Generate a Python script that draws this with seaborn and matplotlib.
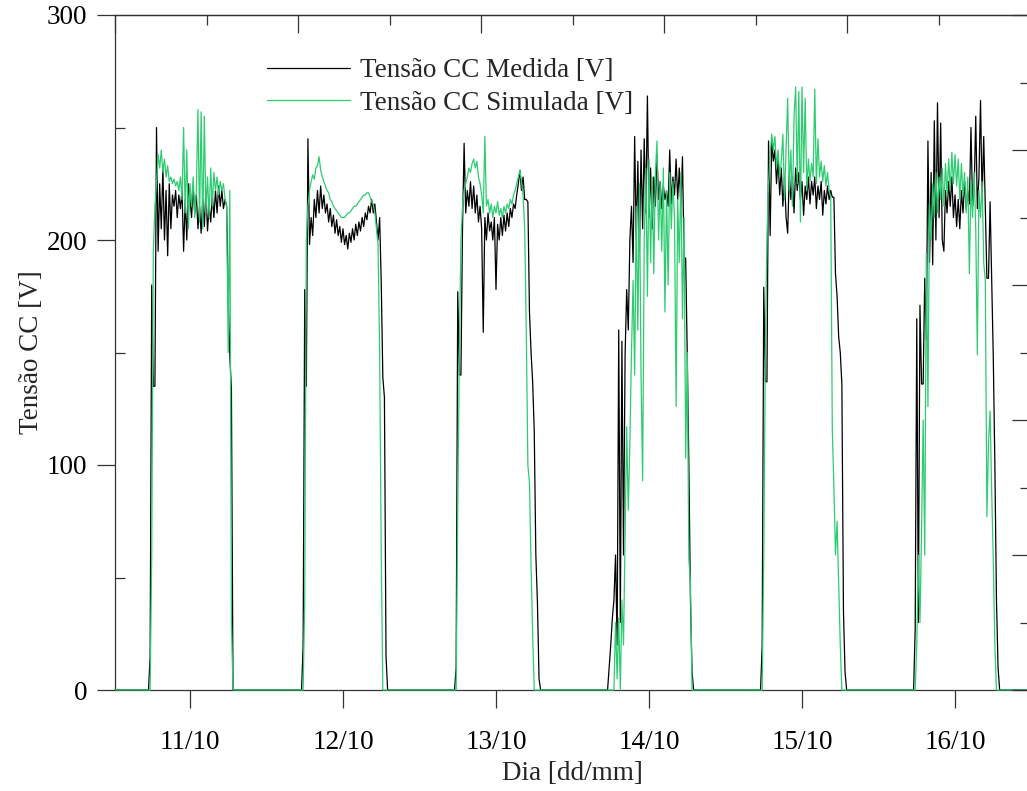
import matplotlib
matplotlib.use("Agg")
import matplotlib.pyplot as plt
import matplotlib.colors as mcolors
import numpy as np
import pandas as pd
import seaborn as sns
from matplotlib.ticker import FixedLocator

# ---------------- data ----------------
days = [11, 12, 13, 14, 15, 16]
day_labels = ["11/10", "12/10", "13/10", "14/10", "15/10", "16/10"]

# sample hours of each day (15 min)
hours = [5.5, 5.75, 6.0, 6.25, 6.5, 6.75, 7.0, 7.25, 7.5, 7.75,
         8.0, 8.25, 8.5, 8.75, 9.0, 9.25, 9.5, 9.75, 10.0, 10.25,
         10.5, 10.75, 11.0, 11.25, 11.5, 11.75, 12.0, 12.25, 12.5, 12.75,
         13.0, 13.25, 13.5, 13.75, 14.0, 14.25, 14.5, 14.75, 15.0, 15.25,
         15.5, 15.75, 16.0, 16.25, 16.5, 16.75, 17.0, 17.25, 17.5, 17.75,
         18.0, 18.25, 18.5, 18.75, 19.0]

med_11 = [0, 15, 180, 135, 135, 250, 195, 225, 205, 232,
          200, 222, 193, 225, 205, 220, 215, 222, 210, 220,
          214, 222, 195, 218, 200, 225, 218, 210, 223, 212,
          220, 205, 215, 203, 218, 206, 222, 204, 215, 208,
          220, 210, 222, 212, 224, 215, 222, 214, 218, 215,
          175, 148, 134, 0, 0]
sim_11 = [0, 0, 60, 195, 215, 225, 238, 232, 240, 230,
          236, 228, 233, 226, 228, 225, 227, 224, 226, 222,
          228, 218, 250, 212, 240, 205, 225, 215, 228, 210,
          222, 258, 208, 257, 205, 255, 212, 228, 210, 232,
          215, 230, 222, 228, 220, 226, 222, 225, 218, 215,
          150, 222, 30, 0, 0]

med_12 = [0, 20, 178, 135, 245, 198, 210, 202, 218, 210,
          222, 212, 224, 214, 220, 212, 216, 208, 214, 206,
          211, 203, 209, 202, 206, 199, 205, 198, 202, 196,
          203, 199, 205, 200, 207, 202, 208, 204, 210, 206,
          212, 209, 215, 212, 218, 212, 216, 208, 200, 210,
          181, 139, 130, 15, 0]
sim_12 = [0, 0, 40, 200, 215, 222, 226, 229, 227, 232,
          233, 237, 231, 228, 226, 224, 222, 221, 218, 217,
          215, 214, 213, 212, 211, 210, 210, 210, 211, 212,
          212, 213, 214, 215, 215, 216, 217, 218, 219, 220,
          220, 221, 221, 219, 217, 216, 212, 205, 198, 150,
          60, 0, 0, 0, 0]

med_13 = [0, 10, 177, 140, 140, 206, 243, 212, 222, 215,
          226, 214, 224, 212, 220, 208, 215, 205, 159, 210,
          200, 212, 204, 208, 200, 210, 178, 207, 200, 210,
          202, 211, 204, 212, 206, 214, 210, 216, 214, 220,
          225, 231, 222, 228, 218, 218, 217, 168, 150, 137,
          115, 60, 39, 5, 0]
sim_13 = [0, 0, 80, 150, 200, 215, 222, 225, 228, 232,
          230, 234, 236, 232, 235, 228, 225, 220, 212, 246,
          215, 218, 212, 216, 210, 215, 212, 217, 211, 214,
          210, 215, 212, 216, 214, 218, 216, 220, 222, 225,
          228, 231, 226, 220, 205, 160, 100, 92, 55, 25,
          0, 0, 0, 0, 0]

med_14 = [0, 10, 20, 32, 40, 60, 20, 160, 30, 155,
          60, 149, 178, 160, 200, 215, 190, 246, 200, 235,
          195, 240, 205, 245, 212, 264, 210, 232, 205, 228,
          215, 238, 218, 226, 214, 224, 218, 222, 215, 240,
          216, 228, 220, 236, 218, 232, 215, 237, 192, 192,
          149, 100, 40, 8, 0]
sim_14 = [0, 0, 0, 0, 0, 30, 5, 32, 0, 40,
          20, 68, 117, 80, 110, 150, 182, 140, 215, 160,
          225, 140, 93, 200, 232, 175, 236, 190, 228, 185,
          230, 244, 200, 226, 195, 232, 168, 222, 180, 230,
          205, 226, 210, 126, 218, 190, 230, 165, 210, 103,
          150, 58, 48, 0, 0]

med_15 = [0, 20, 179, 137, 137, 244, 202, 245, 235, 240,
          225, 236, 220, 232, 215, 228, 210, 203, 230, 218,
          228, 212, 232, 222, 230, 218, 226, 211, 224, 218,
          228, 216, 226, 220, 228, 214, 224, 218, 226, 211,
          222, 216, 224, 218, 222, 219, 219, 185, 175, 157,
          150, 136, 35, 8, 0]
sim_15 = [0, 0, 60, 150, 202, 225, 238, 247, 240, 246,
          232, 240, 228, 235, 247, 218, 240, 263, 222, 240,
          215, 255, 268, 225, 266, 208, 268, 230, 263, 222,
          236, 226, 234, 228, 267, 225, 245, 228, 235, 226,
          233, 224, 230, 222, 219, 116, 90, 60, 75, 47,
          20, 0, 0, 0, 0]

med_16 = [0, 27, 165, 30, 171, 136, 136, 183, 156, 244,
          190, 230, 189, 253, 200, 261, 210, 252, 200, 195,
          222, 212, 226, 215, 228, 210, 220, 206, 218, 205,
          222, 212, 226, 214, 222, 216, 250, 215, 222, 255,
          214, 228, 262, 218, 246, 215, 183, 183, 217, 183,
          148, 100, 40, 10, 0]
sim_16 = [0, 0, 20, 60, 30, 71, 120, 60, 194, 126,
          216, 200, 225, 210, 230, 212, 228, 218, 232, 215,
          234, 220, 236, 222, 239, 225, 238, 224, 236, 218,
          234, 220, 230, 212, 228, 185, 226, 210, 230, 205,
          149, 222, 210, 226, 190, 182, 77, 110, 124, 88,
          58, 20, 0, 0, 0]

medida = [med_11, med_12, med_13, med_14, med_15, med_16]
simulada = [sim_11, sim_12, sim_13, sim_14, sim_15, sim_16]

lbl_med = "Tensão CC Medida [V]"
lbl_sim = "Tensão CC Simulada [V]"
green = "#2ecc71"
x_lo, x_hi = 10.51, 16.49

rows = []
for name, series in [(lbl_med, medida), (lbl_sim, simulada)]:
    rows.append((name, x_lo, 0.0))
    for d, vals in zip(days, series):
        assert len(vals) == len(hours)
        for h, v in zip(hours, vals):
            rows.append((name, d + (h - 12.0) / 24.0, v))
    rows.append((name, x_hi, 0.0))
df = pd.DataFrame(rows, columns=["serie", "t", "v"])

# ---------------- style ----------------
sns.set_theme(style="ticks")
plt.rcParams["font.family"] = ["Liberation Serif", "DejaVu Serif"]
plt.rcParams["axes.linewidth"] = 0.9
plt.rcParams["axes.edgecolor"] = "#333333"

W, H = 1027, 791
fig = plt.figure(figsize=(W / 100, H / 100), dpi=100)
ax = fig.add_axes([115 / W, (H - 690) / H, 915 / W, 675 / H])

sns.lineplot(data=df, x="t", y="v", hue="serie", hue_order=[lbl_med, lbl_sim],
             palette={lbl_med: "#000000", lbl_sim: green},
             estimator=None, sort=False, linewidth=0.9, ax=ax, zorder=3)
for ln in ax.get_lines():
    ln.set_clip_on(False)
    if mcolors.to_hex(ln.get_color()) == green:
        ln.set_zorder(4)

ax.set_xlim(x_lo, x_hi)
ax.set_ylim(0, 300)

# twins for top and right decorative axes
axt = ax.twiny()
axr = ax.twinx()

fs = 19.5
ax.set_xticks(days)
ax.set_xticklabels(day_labels)
ax.set_yticks([0, 100, 200, 300])
ax.yaxis.set_minor_locator(FixedLocator([50, 150, 250]))
ax.tick_params(axis="x", which="major", direction="out", length=13, width=0.9,
               labelsize=fs, pad=16, top=False, colors="#333333", labelcolor="black")
ax.tick_params(axis="y", which="major", direction="out", length=13, width=0.9,
               labelsize=fs, pad=7, right=False, colors="#333333", labelcolor="black")
ax.tick_params(axis="y", which="minor", direction="in", length=7, width=0.9, right=False,
               colors="#333333")
ax.tick_params(axis="x", which="minor", bottom=False, top=False)

axt.set_xlim(0, 10)
axt.set_xticks([0, 2, 4, 6, 8, 10])
axt.xaxis.set_minor_locator(FixedLocator([1, 3, 5, 7, 9]))
axt.tick_params(axis="x", which="major", direction="in", length=13, width=0.9,
                labeltop=False, colors="#333333")
axt.tick_params(axis="x", which="minor", direction="in", length=7, width=0.9, colors="#333333")

axr.set_ylim(0, 10)
axr.set_yticks([0, 2, 4, 6, 8, 10])
axr.yaxis.set_minor_locator(FixedLocator([1, 3, 5, 7, 9]))
axr.tick_params(axis="y", which="major", direction="in", length=13, width=0.9,
                labelright=False, colors="#333333")
axr.tick_params(axis="y", which="minor", direction="in", length=7, width=0.9, colors="#333333")

for s in ax.spines.values():
    s.set_visible(True)
    s.set_linewidth(0.9)
    s.set_color("#333333")
    s.set_zorder(2)
for a, keep in ((axt, "top"), (axr, "right")):
    for k, s in a.spines.items():
        s.set_visible(k == keep)
        s.set_linewidth(0.9)
        s.set_color("#333333")

ax.set_xlabel("Dia [dd/mm]", fontsize=fs, labelpad=4)
ax.set_ylabel("Tensão CC [V]", fontsize=fs, labelpad=2)

handles, labels = ax.get_legend_handles_labels()
ax.legend(handles, labels, loc="upper left",
          bbox_to_anchor=((267 - 115) / 915, (690 - 58) / 675),
          frameon=False, fontsize=fs, borderpad=0, borderaxespad=0,
          handlelength=3.05, handletextpad=0.4, labelspacing=0.28)

fig.savefig("out.png", dpi=100)
